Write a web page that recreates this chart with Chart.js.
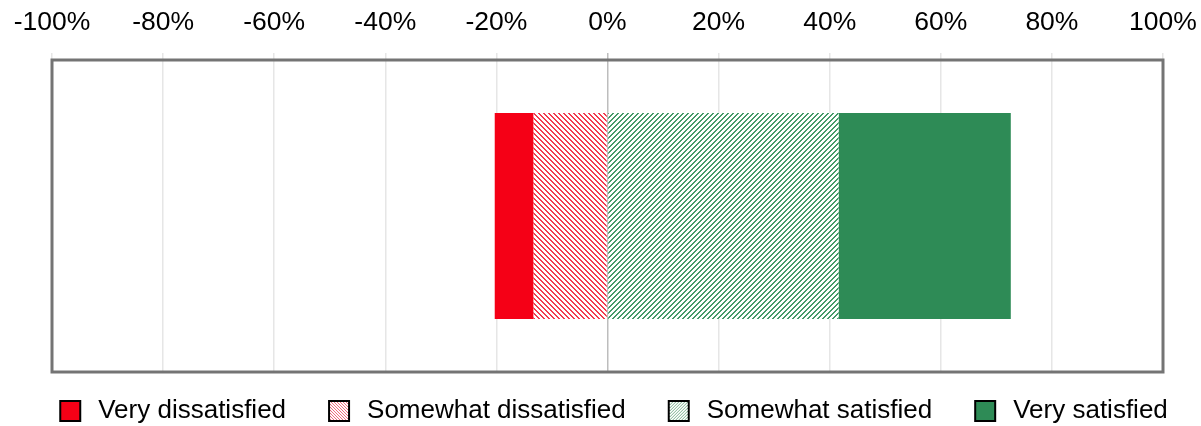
<!DOCTYPE html>
<html>
<head>
<meta charset="utf-8">
<script src="https://cdn.jsdelivr.net/npm/chart.js@4"></script>
<style>
  html, body { margin: 0; padding: 0; background: #fff; }
  #wrap { width: 1201px; height: 426px; position: relative; }
</style>
</head>
<body>
<div id="wrap"><canvas id="c" width="1201" height="426"></canvas></div>
<script>
// ---- data ----
const categories = ['Satisfaction'];
const seriesNames = ['Very dissatisfied', 'Somewhat dissatisfied', 'Somewhat satisfied', 'Very satisfied'];
const veryDissatisfied = [-7.0];
const somewhatDissatisfied = [-13.3];
const somewhatSatisfied = [41.6];
const verySatisfied = [31.0];
const axisMin = -100, axisMax = 100, axisStep = 20;

// ---- styles ----
const RED = 'rgb(245,0,22)';
const GREEN = 'rgb(46,139,86)';

function hatch(color, dir, size, on) {
  const c = document.createElement('canvas');
  c.width = size; c.height = size;
  const g = c.getContext('2d');
  g.fillStyle = '#fff'; g.fillRect(0, 0, size, size);
  g.fillStyle = color;
  for (let y = 0; y < size; y++) {
    for (let x = 0; x < size; x++) {
      const k = dir === '\\' ? ((x - y) % size + size) % size : (x + y) % size;
      if (k < on) g.fillRect(x, y, 1, 1);
    }
  }
  return c;
}
const ctxMain = document.getElementById('c').getContext('2d');
const redHatch = ctxMain.createPattern(hatch('rgb(242,60,80)', '\\', 5, 2), 'repeat');
const greenHatch = ctxMain.createPattern(hatch('rgb(70,155,105)', '/', 5, 2), 'repeat');

const ICON_W = 42, ICON_H = 26, BOX = 22;
function icon(fill) {
  const c = document.createElement('canvas');
  c.width = ICON_W; c.height = ICON_H;
  const g = c.getContext('2d');
  const bx = ICON_W - 4 - BOX, by = (ICON_H - BOX) / 2;
  g.fillStyle = fill; g.fillRect(bx, by, BOX, BOX);
  g.strokeStyle = '#000'; g.lineWidth = 2;
  g.strokeRect(bx + 1, by + 1, BOX - 2, BOX - 2);
  return c;
}
function smallHatchFill(color, dir) {
  return ctxMain.createPattern(hatch(color, dir, 3, 1), 'repeat');
}
const icons = {
  'Very dissatisfied': icon(RED),
  'Somewhat dissatisfied': icon(smallHatchFill('rgb(240,100,120)', '\\')),
  'Somewhat satisfied': icon(smallHatchFill('rgb(120,175,140)', '/')),
  'Very satisfied': icon(GREEN)
};
const legendRank = {};
seriesNames.forEach((n, i) => legendRank[n] = i);

const framePlugin = {
  id: 'frame',
  afterDatasetsDraw(chart) {
    const a = chart.chartArea, g = chart.ctx;
    g.save();
    g.strokeStyle = '#747474';
    g.lineWidth = 3;
    g.strokeRect(a.left, a.top, a.right - a.left, a.bottom - a.top);
    g.restore();
  }
};

Chart.defaults.font.family = '"Liberation Sans", Arial, sans-serif';
Chart.defaults.color = '#000';

new Chart(ctxMain, {
  type: 'bar',
  data: {
    labels: categories,
    datasets: [
      { label: seriesNames[1], data: somewhatDissatisfied, backgroundColor: redHatch },
      { label: seriesNames[0], data: veryDissatisfied, backgroundColor: RED },
      { label: seriesNames[2], data: somewhatSatisfied, backgroundColor: greenHatch },
      { label: seriesNames[3], data: verySatisfied, backgroundColor: GREEN }
    ]
  },
  options: {
    indexAxis: 'y',
    responsive: false,
    animation: false,
    layout: { padding: { top: 0, left: 10, right: 0, bottom: -8 } },
    datasets: { bar: { categoryPercentage: 1.0, barPercentage: 0.66, borderWidth: 0 } },
    scales: {
      x: {
        position: 'top',
        stacked: true,
        min: axisMin, max: axisMax,
        afterFit: (s) => { s.height = 60; s.paddingLeft = 52; s.paddingRight = 38; },
        ticks: {
          stepSize: axisStep,
          padding: 14,
          font: { size: 26.5 },
          color: '#000',
          maxRotation: 0,
          callback: (v) => v + '%'
        },
        grid: {
          drawOnChartArea: true,
          tickLength: 7,
          lineWidth: 1.5,
          color: (c) => (c.tick && c.tick.value === 0) ? '#bdbdbd' : '#e6e6e6'
        },
        border: { display: false }
      },
      y: {
        stacked: true,
        display: false
      }
    },
    plugins: {
      tooltip: { enabled: false },
      legend: {
        position: 'bottom',
        labels: {
          usePointStyle: true,
          pointStyleWidth: ICON_W,
          padding: 26,
          font: { size: 26 },
          color: '#000',
          sort: (a, b) => legendRank[a.text] - legendRank[b.text],
          generateLabels: (chart) => {
            const items = Chart.defaults.plugins.legend.labels.generateLabels(chart);
            items.forEach(it => { it.pointStyle = icons[it.text]; });
            return items;
          }
        }
      }
    }
  },
  plugins: [framePlugin]
});
</script>
</body>
</html>
